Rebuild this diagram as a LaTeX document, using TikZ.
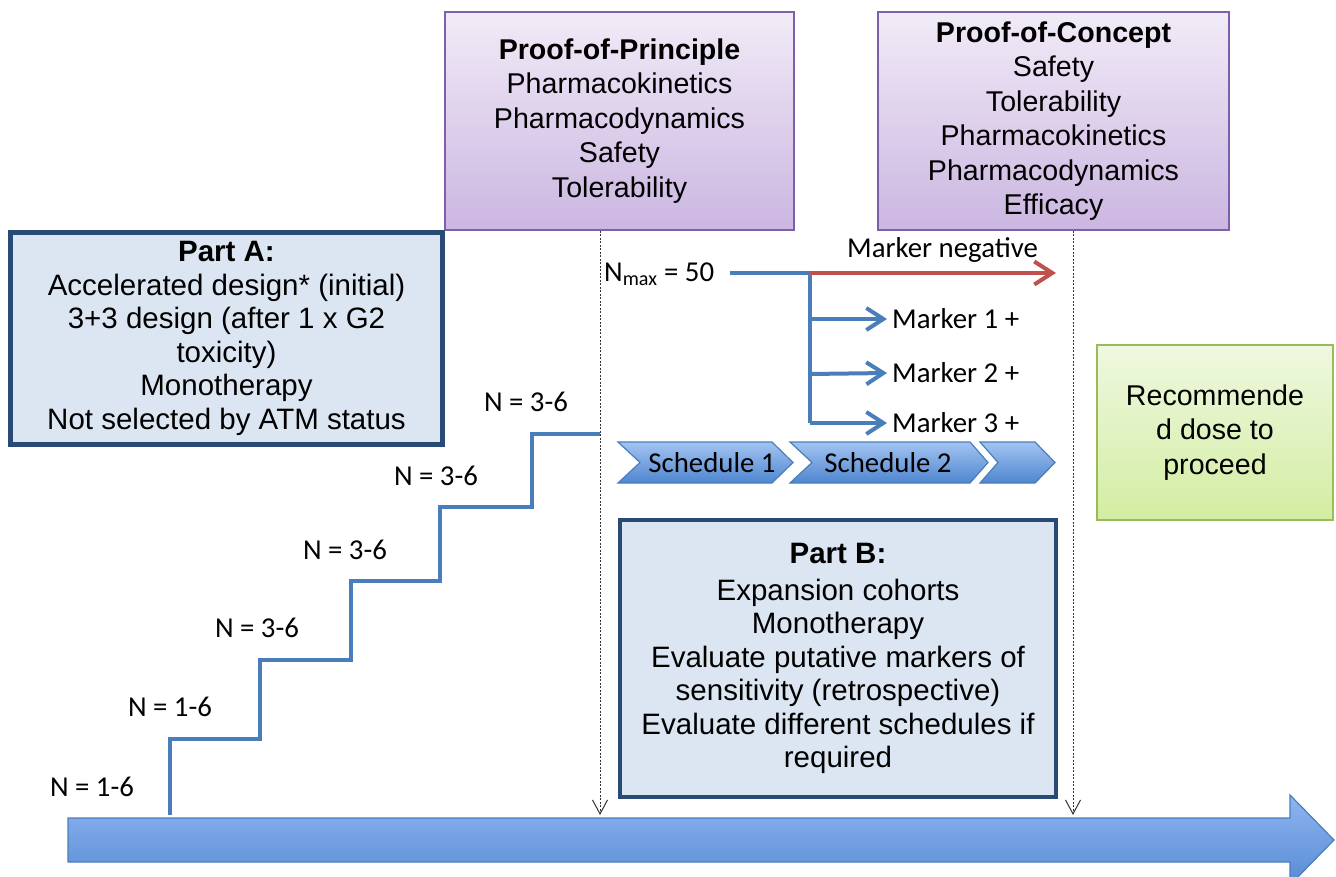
\documentclass[tikz,border=0pt]{standalone}
\usepackage{fontspec}
\setmainfont{Liberation Sans}
\newfontfamily\calib{Carlito}
\usetikzlibrary{arrows.meta,calc}
\definecolor{lineblue}{HTML}{4A7EBB}
\definecolor{markred}{HTML}{C0504D}
\definecolor{purpedge}{HTML}{7F5FAA}
\definecolor{purptop}{HTML}{F1EBF7}
\definecolor{purpbot}{HTML}{CBB6E1}
\definecolor{partfill}{HTML}{DCE6F2}
\definecolor{partedge}{HTML}{284A74}
\definecolor{greentop}{HTML}{EFF8E0}
\definecolor{greenbot}{HTML}{D3EDA2}
\definecolor{greenedge}{HTML}{9BBB59}
\definecolor{chevtop}{HTML}{A3C4F2}
\definecolor{chevbot}{HTML}{4F86D0}
\definecolor{tltop}{HTML}{8FB5F1}
\definecolor{tlbot}{HTML}{578BD4}
\tikzset{
  boxfont/.style={font=\fontsize{28.6}{34.5}\selectfont},
  purplebox/.style={boxfont, draw=purpedge, line width=2pt, top color=purptop, bottom color=purpbot, align=center, inner sep=0pt},
  partbox/.style={font=\fontsize{29.5}{33.5}\selectfont, draw=partedge, line width=4.5pt, fill=partfill, align=center, inner sep=0pt},
  greenbox/.style={boxfont, draw=greenedge, line width=1.5pt, top color=greentop, bottom color=greenbot, align=center, inner sep=0pt},
  clabel/.style={font=\calib\fontsize{28.8}{32}\selectfont, inner sep=0pt},
  stair/.style={draw=lineblue, line width=4pt},
  bluearrow/.style={draw=lineblue, line width=4pt, -{Straight Barb[length=17pt,width=22pt,line width=4pt]}},
  redarrow/.style={draw=markred, line width=4pt, -{Straight Barb[length=18pt,width=23pt,line width=4pt]}},
  dotarrow/.style={draw=black!80, line width=0.9pt, dash pattern=on 2pt off 1.5pt, -{Straight Barb[length=14pt,width=15pt,line width=1pt]}},
  chevron/.style={draw=lineblue, line width=1.2pt, top color=chevtop, bottom color=chevbot},
}
\begin{document}
\begin{tikzpicture}[x=1pt,y=-1pt]
\useasboundingbox (0,0) rectangle (1336,877);
\fill[white] (0,0) rectangle (1336,877);

% timeline arrow
\draw[draw=lineblue, line width=1.2pt, top color=tltop, bottom color=tlbot]
  (68,818) -- (1290,818) -- (1290,795) -- (1334,840) -- (1290,885) -- (1290,862) -- (68,862) -- cycle;
\coordinate (tl1) at (600,815);
\coordinate (tl2) at (1073,815);

% top boxes
\node[purplebox, minimum width=349pt, minimum height=218pt] (pop) at (619.5,121)
  {\textbf{Proof-of-Principle}\\Pharmacokinetics\\Pharmacodynamics\\Safety\\Tolerability};
\node[purplebox, minimum width=351pt, minimum height=218pt] (poc) at (1053.5,121)
  {\textbf{Proof-of-Concept}\\Safety\\Tolerability\\Pharmacokinetics\\Pharmacodynamics\\Efficacy};

% dotted arrows
\coordinate (d1) at ($(pop.south)+(-19.5,0)$);
\coordinate (d2) at ($(poc.south)+(19.5,0)$);
\draw[dotarrow] (d1) -- (tl1);
\draw[dotarrow] (d2) -- (tl2);

% Part A
\node[partbox, minimum width=432pt, minimum height=212pt] (pa) at (226.5,338.5)
  {\textbf{Part A:}\\Accelerated design* (initial)\\3+3 design (after 1 x G2\\toxicity)\\Monotherapy\\Not selected by ATM status};

% Part B
\node[partbox, minimum width=436pt, minimum height=277pt] (pb) at (838,658.5)
  {\textbf{Part B:}\\[3pt]Expansion cohorts\\Monotherapy\\Evaluate putative markers of\\sensitivity (retrospective)\\Evaluate different schedules if\\required};

% green box
\node[greenbox, minimum width=236pt, minimum height=175pt] (gb) at (1215,432.5)
  {Recommende\\d dose to\\proceed};

% staircase
\coordinate (s0) at (170,815);
\coordinate (s1) at (170,739);
\coordinate (s2) at (260,739);
\coordinate (s3) at (260,660);
\coordinate (s4) at (351,660);
\coordinate (s5) at (351,581);
\coordinate (s6) at (440,581);
\coordinate (s7) at (440,507);
\coordinate (s8) at (532,507);
\coordinate (s9) at (532,434);
\coordinate (s10) at (600,434);
\draw[stair, line join=miter] (s0) -- (s1) -- (s2) -- (s3) -- (s4) -- (s5) -- (s6) -- (s7) -- (s8) -- (s9) -- (s10);

\node[clabel] (n1) at (92,787) {N = 1-6};
\node[clabel] (n2) at (170,707) {N = 1-6};
\node[clabel] (n3) at (257,628) {N = 3-6};
\node[clabel] (n4) at (345,550) {N = 3-6};
\node[clabel] (n5) at (436,476) {N = 3-6};
\node[clabel] (n6) at (526,402) {N = 3-6};

% Nmax and markers
\node[clabel, anchor=west] (nmax) at (604,274) {N\textsubscript{max} = 50};
\coordinate (b0) at (730,273);
\coordinate (b1) at (810,273);
\coordinate (v1) at (810,319);
\coordinate (v2) at (810,374);
\coordinate (v3) at (810,423);
\node[clabel, anchor=west, inner xsep=5pt] (m1) at (887,319) {Marker 1 +};
\node[clabel, anchor=west, inner xsep=5pt] (m2) at (887,373) {Marker 2 +};
\node[clabel, anchor=west, inner xsep=5pt] (m3) at (887,423) {Marker 3 +};
\node[clabel, anchor=east] (mneg) at (1038,250) {Marker negative};
\coordinate (rend) at (1056,273);
\draw[stair, line cap=butt] (b0) -- (b1) -- (v3);
\draw[redarrow] (b1) -- (rend);
\draw[bluearrow] (v1) -- (m1.west);
\draw[bluearrow] (v2) -- (m2.west);
\draw[bluearrow] (v3) -- (m3.west);

% schedules
\draw[chevron] (618,442) -- (772,442) -- (793,462.5) -- (772,483) -- (618,483) -- (640,462.5) -- cycle;
\draw[chevron] (790,442) -- (970,442) -- (988,462.5) -- (970,483) -- (790,483) -- (812,462.5) -- cycle;
\draw[chevron] (980,442) -- (1035,442) -- (1055,462.5) -- (1035,483) -- (980,483) -- (998,462.5) -- cycle;
\node[clabel] (sc1) at (712,463) {Schedule 1};
\node[clabel] (sc2) at (888,463) {Schedule 2};
\end{tikzpicture}
\end{document}
